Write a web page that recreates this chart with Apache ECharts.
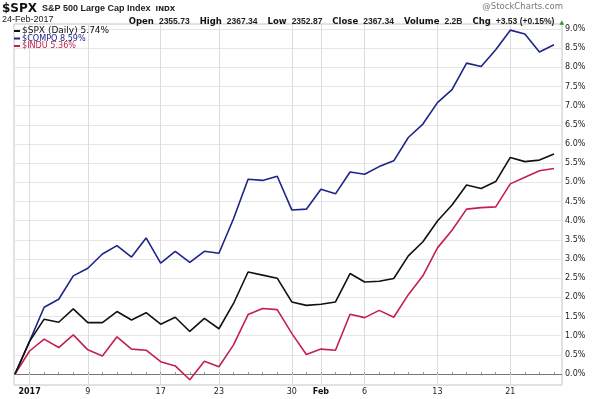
<!DOCTYPE html>
<html>
<head>
<meta charset="utf-8">
<script src="https://cdn.jsdelivr.net/npm/echarts@6/dist/echarts.min.js"></script>
<style>
  html, body { margin: 0; padding: 0; background: #fff; }
  #chart { width: 600px; height: 399px; }
</style>
</head>
<body>
<div id="chart"></div>
<script>
// trading days, base = last close of 2016
const dates = ['Dec 30', 'Jan 3', 'Jan 4', 'Jan 5', 'Jan 6', 'Jan 9', 'Jan 10', 'Jan 11', 'Jan 12', 'Jan 13',
  'Jan 17', 'Jan 18', 'Jan 19', 'Jan 20', 'Jan 23', 'Jan 24', 'Jan 25', 'Jan 26', 'Jan 27', 'Jan 30', 'Jan 31',
  'Feb 1', 'Feb 2', 'Feb 3', 'Feb 6', 'Feb 7', 'Feb 8', 'Feb 9', 'Feb 10', 'Feb 13', 'Feb 14', 'Feb 15',
  'Feb 16', 'Feb 17', 'Feb 21', 'Feb 22', 'Feb 23', 'Feb 24']

// % change since base
const spx = [0, 0.85, 1.43, 1.35, 1.70, 1.34, 1.34, 1.63, 1.41, 1.60, 1.30, 1.48, 1.11, 1.45, 1.18, 1.84,
  2.66, 2.58, 2.50, 1.88, 1.79, 1.82, 1.88, 2.62, 2.40, 2.42, 2.49, 3.08, 3.45, 3.99, 4.41, 4.93, 4.84,
  5.02, 5.65, 5.54, 5.58, 5.74]
const compq = [0, 0.85, 1.74, 1.95, 2.56, 2.76, 3.13, 3.35, 3.05, 3.55, 2.89, 3.20, 2.91, 3.20, 3.15, 4.05,
  5.08, 5.05, 5.16, 4.28, 4.30, 4.82, 4.70, 5.27, 5.21, 5.41, 5.56, 6.17, 6.52, 7.08, 7.42, 8.11, 8.02,
  8.46, 8.97, 8.87, 8.40, 8.59]
const indu = [0, 0.60, 0.91, 0.69, 1.02, 0.63, 0.47, 0.97, 0.65, 0.62, 0.32, 0.21, -0.15, 0.33, 0.19, 0.76,
  1.55, 1.71, 1.68, 1.06, 0.51, 0.65, 0.62, 1.56, 1.47, 1.66, 1.48, 2.07, 2.56, 3.29, 3.75, 4.30, 4.34,
  4.36, 4.96, 5.13, 5.30, 5.36]

// x tick labels
const tickDates = ['Jan 3', 'Jan 9', 'Jan 17', 'Jan 23', 'Jan 30', 'Feb 1', 'Feb 6', 'Feb 13', 'Feb 21']
const tickText = ['2017', '9', '17', '23', '30', 'Feb', '6', '13', '21']
const boldTicks = ['2017', 'Feb']

// quote line
const quoteLabels = ['Open', 'High', 'Low', 'Close', 'Volume', 'Chg']
const quoteValues = ['2355.73', '2367.34', '2352.87', '2367.34', '2.2B', '+3.53 (+0.15%)']

const seriesNames = ['$SPX (Daily)', '$COMPQ', '$INDU']
const seriesData = [spx, compq, indu]
const colors = ['#111111', '#1d2686', '#c3204c']

const narrow = 'Liberation Sans Narrow, Liberation Sans, Arial, sans-serif'
const sans = 'DejaVu Sans, Verdana, sans-serif'

const chart = echarts.init(document.getElementById('chart'), null, { renderer: 'canvas' })

const isTick = (i, v) => tickDates.indexOf(v) >= 0

const quoteText = quoteLabels.map((l, i) => '{l|' + l + '} {v|' + quoteValues[i] + '}').join('  ') + ' {t|▲}'

chart.setOption({
  backgroundColor: '#fff',
  animation: false,
  title: [{
    left: 2,
    top: 0,
    padding: 0,
    text: '{a|$SPX} {b|S&P 500 Large Cap Index} {c|INDX}',
    textStyle: {
      rich: {
        a: { fontSize: 12, lineHeight: 14, fontWeight: 'bold', fontFamily: sans, color: '#111' },
        b: { fontSize: 9, lineHeight: 14, fontFamily: narrow, color: '#222' },
        c: { fontSize: 7, lineHeight: 14, fontFamily: sans, color: '#222' }
      }
    }
  }, {
    left: 2,
    top: 14,
    padding: 0,
    text: '24-Feb-2017',
    textStyle: { fontSize: 9, lineHeight: 11, fontWeight: 'normal', fontFamily: narrow, color: '#222' }
  }, {
    right: 36,
    top: 13,
    padding: 0,
    text: quoteText,
    textStyle: {
      rich: {
        l: { fontSize: 8.5, lineHeight: 11, fontWeight: 'bold', fontFamily: sans, color: '#111' },
        v: { fontSize: 8.5, lineHeight: 11, fontFamily: narrow, color: '#222' },
        t: { fontSize: 6, lineHeight: 11, fontFamily: sans, color: '#2a9a2a' }
      }
    }
  }, {
    right: 37,
    top: 2,
    padding: 0,
    text: '@StockCharts.com',
    textStyle: { fontSize: 8.5, lineHeight: 10, fontWeight: 'normal', fontFamily: sans, color: '#777' }
  }],
  legend: {
    left: 14,
    top: 26.5,
    orient: 'vertical',
    padding: 0,
    itemGap: -1.5,
    itemWidth: 6,
    itemHeight: 2,
    icon: 'rect',
    formatter: name => {
      const d = seriesData[seriesNames.indexOf(name)]
      return name + ' ' + d[d.length - 1].toFixed(2) + '%'
    },
    textStyle: { fontSize: 9, lineHeight: 7.5, fontFamily: sans, padding: [0, 0, 0, -3] },
    data: seriesNames.map((n, i) => ({
      name: n,
      textStyle: { color: colors[i], fontFamily: i === 0 ? sans : 'DejaVu Sans Condensed, ' + narrow }
    }))
  },
  grid: [
    { left: 15, right: 46, top: 24, bottom: 14 },
    { left: 14, right: 38, top: 29, bottom: 25 },
    { left: 14, right: 38, top: 24, bottom: 14, show: true, borderColor: '#c4c4c4', borderWidth: 1 }
  ],
  xAxis: [{
    gridIndex: 0,
    type: 'category',
    data: dates,
    boundaryGap: false,
    axisLine: { show: false },
    axisTick: { show: true, inside: true, length: 2, interval: 0, lineStyle: { color: '#999' } },
    axisLabel: {
      interval: isTick,
      margin: 3,
      fontSize: 8,
      fontFamily: sans,
      color: '#222',
      formatter: v => {
        const t = tickText[tickDates.indexOf(v)]
        return boldTicks.indexOf(t) >= 0 ? '{b|' + t + '}' : t
      },
      rich: { b: { fontSize: 8, fontWeight: 'bold', fontFamily: sans, color: '#111' } }
    },
    splitLine: { show: true, interval: isTick, lineStyle: { color: '#dcdcdc', width: 1 } }
  }, {
    gridIndex: 1, type: 'value', show: false, min: 0, max: 1
  }, {
    gridIndex: 2, type: 'value', show: false, min: 0, max: 1
  }],
  yAxis: [{
    gridIndex: 0, type: 'value', show: false, min: -0.287, max: 9.1304
  }, {
    gridIndex: 1,
    type: 'value',
    min: 0,
    max: 9,
    interval: 0.5,
    position: 'right',
    axisLine: { show: false },
    axisTick: { show: false },
    axisLabel: {
      margin: 3,
      fontSize: 8,
      fontFamily: sans,
      color: '#222',
      formatter: v => v.toFixed(1) + '%'
    },
    splitLine: {
      show: true,
      lineStyle: { color: ['#777'].concat(new Array(18).fill('#e6e6e6')), width: 1 }
    }
  }, {
    gridIndex: 2, type: 'value', show: false
  }],
  series: seriesNames.map((n, i) => ({
    name: n,
    type: 'line',
    xAxisIndex: 0,
    yAxisIndex: 0,
    symbol: 'none',
    color: colors[i],
    lineStyle: { width: 1.6, color: colors[i] },
    z: 10 - i,
    data: seriesData[i]
  }))
})
</script>
</body>
</html>
